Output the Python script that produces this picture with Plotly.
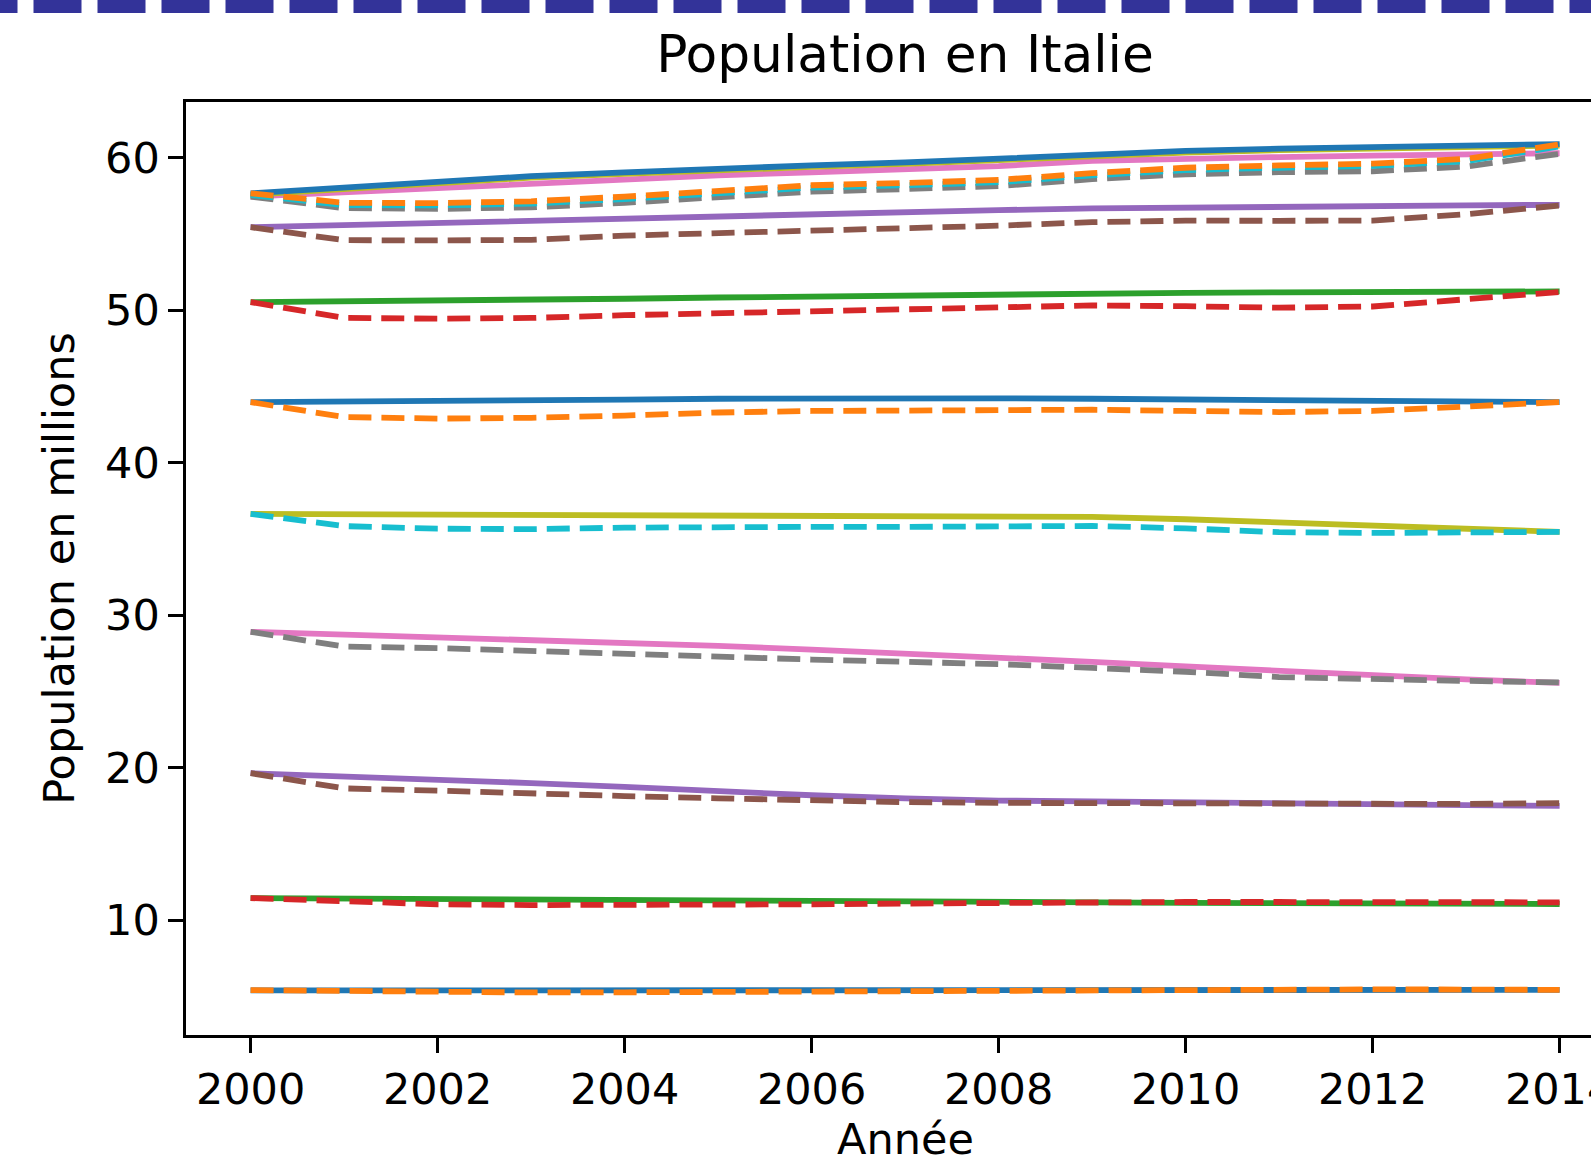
import plotly.graph_objects as go

# ---------------- data ----------------
years = [2000, 2001, 2002, 2003, 2004, 2005, 2006, 2007, 2008, 2009, 2010, 2011, 2012, 2013, 2014]

solid_1 = [5.40, 5.40, 5.39, 5.39, 5.39, 5.40, 5.41, 5.42, 5.43, 5.44, 5.45, 5.45, 5.45, 5.44, 5.44]
dashed_1 = [5.42, 5.35, 5.30, 5.27, 5.28, 5.31, 5.34, 5.38, 5.44, 5.47, 5.48, 5.48, 5.47, 5.46, 5.44]

solid_2 = [11.46, 11.42, 11.38, 11.34, 11.30, 11.27, 11.24, 11.21, 11.19, 11.17, 11.15, 11.13, 11.11, 11.09, 11.07]
dashed_2 = [11.46, 11.25, 11.05, 11.00, 11.00, 11.02, 11.05, 11.10, 11.15, 11.18, 11.20, 11.20, 11.20, 11.20, 11.18]

solid_3 = [19.65, 19.45, 19.25, 19.00, 18.75, 18.45, 18.20, 18.00, 17.85, 17.80, 17.72, 17.65, 17.60, 17.55, 17.50]
dashed_3 = [19.65, 18.65, 18.50, 18.30, 18.15, 18.00, 17.85, 17.75, 17.70, 17.68, 17.65, 17.63, 17.62, 17.63, 17.68]

solid_4 = [28.92, 28.75, 28.57, 28.38, 28.20, 28.00, 27.75, 27.50, 27.25, 26.95, 26.65, 26.35, 26.05, 25.80, 25.57]
dashed_4 = [28.92, 27.95, 27.85, 27.65, 27.50, 27.30, 27.10, 26.95, 26.80, 26.55, 26.30, 25.95, 25.80, 25.70, 25.60]

solid_5 = [36.65, 36.62, 36.60, 36.60, 36.58, 36.56, 36.55, 36.52, 36.50, 36.45, 36.30, 36.08, 35.85, 35.65, 35.47]
dashed_5 = [36.65, 35.85, 35.68, 35.65, 35.75, 35.80, 35.80, 35.80, 35.82, 35.86, 35.70, 35.45, 35.40, 35.45, 35.47]

solid_6 = [43.98, 44.00, 44.03, 44.08, 44.14, 44.20, 44.24, 44.25, 44.23, 44.20, 44.15, 44.10, 44.05, 44.00, 43.98]
dashed_6 = [43.98, 43.00, 42.90, 42.95, 43.10, 43.30, 43.40, 43.45, 43.50, 43.48, 43.40, 43.33, 43.40, 43.70, 43.98]

solid_7 = [50.54, 50.58, 50.62, 50.68, 50.76, 50.84, 50.92, 50.98, 51.04, 51.10, 51.15, 51.18, 51.20, 51.22, 51.24]
dashed_7 = [50.54, 49.50, 49.45, 49.50, 49.68, 49.80, 49.90, 50.00, 50.15, 50.32, 50.27, 50.17, 50.25, 50.75, 51.20]

solid_8 = [55.45, 55.60, 55.75, 55.90, 56.05, 56.20, 56.33, 56.45, 56.57, 56.68, 56.75, 56.80, 56.85, 56.88, 56.92]
dashed_8 = [55.45, 54.60, 54.58, 54.62, 54.90, 55.05, 55.20, 55.35, 55.55, 55.78, 55.88, 55.87, 55.88, 56.30, 56.87]

solid_9 = [57.46, 57.75, 58.05, 58.35, 58.60, 58.85, 59.05, 59.25, 59.45, 59.80, 59.95, 60.05, 60.15, 60.22, 60.30]
dashed_9 = [57.46, 56.70, 56.65, 56.75, 57.05, 57.40, 57.78, 57.95, 58.15, 58.60, 58.92, 59.06, 59.12, 59.43, 60.26]

solid_10 = [57.57, 57.95, 58.35, 58.70, 58.95, 59.20, 59.40, 59.60, 59.85, 60.15, 60.35, 60.50, 60.62, 60.72, 60.80]
dashed_10 = [57.57, 56.90, 56.88, 57.00, 57.30, 57.65, 58.05, 58.20, 58.40, 58.85, 59.20, 59.35, 59.47, 59.78, 60.75]

solid_11 = [57.67, 58.05, 58.45, 58.80, 59.05, 59.30, 59.50, 59.70, 59.95, 60.25, 60.45, 60.60, 60.72, 60.82, 60.90]
dashed_11 = [57.67, 57.05, 57.03, 57.15, 57.45, 57.80, 58.20, 58.35, 58.55, 59.00, 59.35, 59.50, 59.62, 59.93, 60.88]

x_ticks = [2000, 2002, 2004, 2006, 2008, 2010, 2012, 2014]
y_ticks = [10, 20, 30, 40, 50, 60]

title_text = "Population en Italie"
x_title = "Année"
y_title = "Population en millions"

# ---------------- styling ----------------
palette = ["#1f77b4", "#ff7f0e", "#2ca02c", "#d62728", "#9467bd",
           "#8c564b", "#e377c2", "#7f7f7f", "#bcbd22", "#17becf"]
pairs = [(solid_1, dashed_1), (solid_2, dashed_2), (solid_3, dashed_3),
         (solid_4, dashed_4), (solid_5, dashed_5), (solid_6, dashed_6),
         (solid_7, dashed_7), (solid_8, dashed_8), (solid_9, dashed_9),
         (solid_10, dashed_10), (solid_11, dashed_11)]

W, H = 1591, 1161
ML, MT, MB, MR = 186, 102, 126, 0
PW, PH = W - ML - MR, H - MT - MB
FONT = "DejaVu Sans"
FS = 43
LW = 5.8

fig = go.Figure()
k = 0
for s, d in pairs:
    fig.add_trace(go.Scatter(x=years, y=s, mode="lines",
                             line=dict(color=palette[k % 10], width=LW),
                             showlegend=False, hoverinfo="skip"))
    k += 1
    fig.add_trace(go.Scatter(x=years, y=d, mode="lines",
                             line=dict(color=palette[k % 10], width=LW, dash="23px,10px"),
                             showlegend=False, hoverinfo="skip"))
    k += 1

# x range: 2000 at px 250.6, 93.5 px per year, plot spans ML..W
px_per_year = 93.5
x0 = 2000 - (250.6 - ML) / px_per_year
x1 = 2000 + (W - 250.6) / px_per_year

axis_common = dict(showgrid=False, zeroline=False, showline=True, linewidth=3,
                   linecolor="black", ticks="outside", ticklen=14.6, tickwidth=3,
                   tickcolor="black", ticklabeloverflow="allow", automargin=False,
                   tickfont=dict(family=FONT, size=FS, color="black"))

fig.update_xaxes(range=[x0, x1], tickvals=x_ticks, mirror=True, **axis_common)
fig.update_yaxes(range=[2.48, 63.66], tickvals=y_ticks, mirror=False,
                 title=dict(text=y_title, font=dict(family=FONT, size=FS, color="black"), standoff=18),
                 **axis_common)

# x-axis title centred on the (partly cropped) matplotlib axes
fig.add_annotation(text=x_title, xref="paper", yref="paper",
                   x=(905 - ML) / PW, y=(H - MB - 1139) / PH,
                   xanchor="center", yanchor="middle", showarrow=False,
                   font=dict(family=FONT, size=FS, color="black"))

# dashed border along the top edge of the figure
bx0 = (-30.5 - ML) / PW
bx1 = (W + 80 - ML) / PW
by = 1 + MT / PH
fig.add_shape(type="line", xref="paper", yref="paper", x0=bx0, x1=bx1, y0=by, y1=by,
              line=dict(color="#333399", width=26, dash="48px,16px"), layer="above")

fig.update_layout(
    width=W, height=H,
    margin=dict(l=ML, r=MR, t=MT, b=MB, pad=0, autoexpand=False),
    paper_bgcolor="white", plot_bgcolor="white",
    title=dict(text=title_text, font=dict(family=FONT, size=51.8, color="black"),
               xref="paper", x=(905 - ML) / PW, xanchor="center",
               yref="container", y=1 - 72 / H, yanchor="bottom"),
    showlegend=False,
)

fig.write_html("out.html", config={"displayModeBar": False},
               post_script="document.body.style.margin='0';document.body.style.padding='0';")
